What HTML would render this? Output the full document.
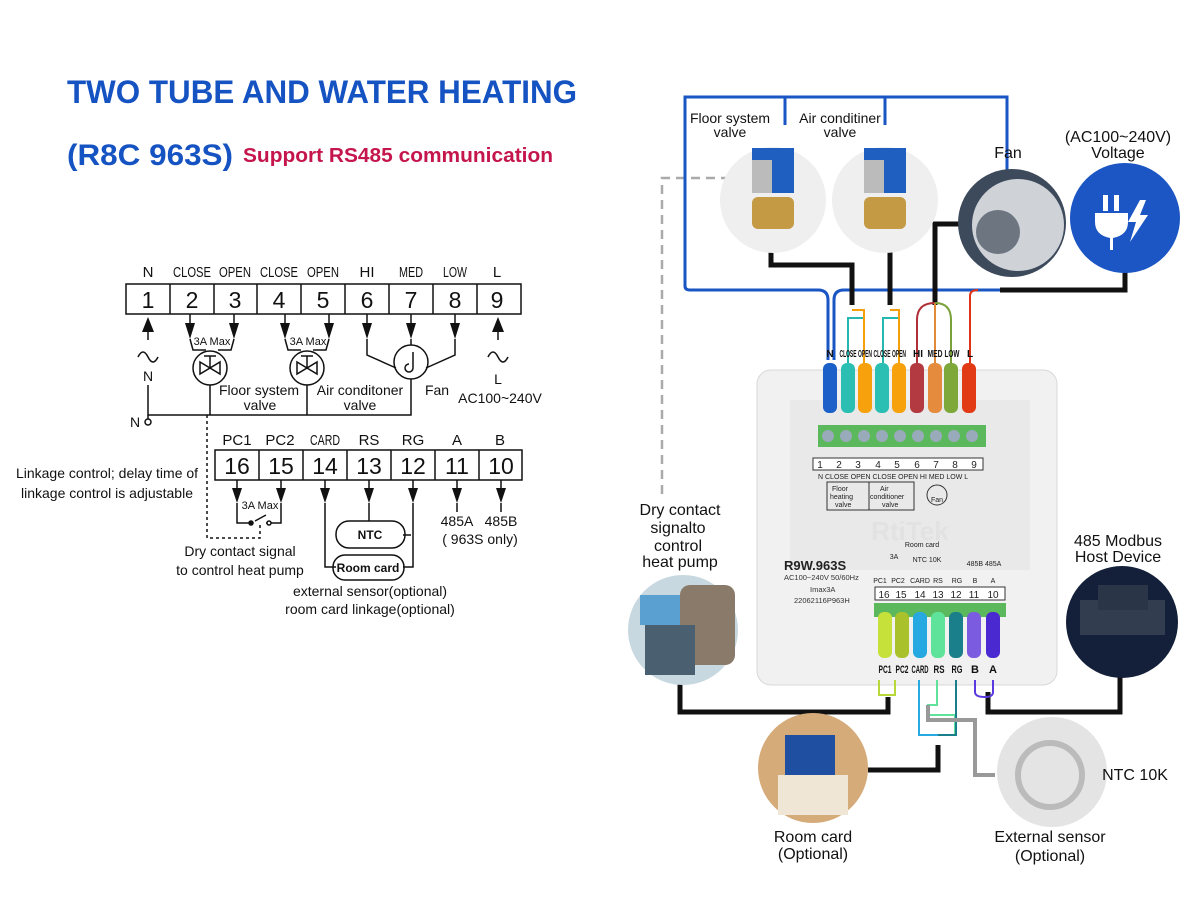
<!DOCTYPE html>
<html><head><meta charset="utf-8"><style>
html,body{margin:0;padding:0;background:#fff}
svg{display:block}
text{font-family:"Liberation Sans",sans-serif}
</style></head><body>
<svg width="1200" height="900" viewBox="0 0 1200 900" xmlns="http://www.w3.org/2000/svg">
<!-- Titles -->
<text x="67" y="103" font-size="32" font-weight="bold" fill="#1553c2" textLength="510" lengthAdjust="spacingAndGlyphs">TWO TUBE AND WATER HEATING</text>
<text x="67" y="165" font-size="30" font-weight="bold" fill="#1553c2" textLength="166" lengthAdjust="spacingAndGlyphs">(R8C 963S)</text>
<text x="243" y="162" font-size="20" font-weight="bold" fill="#c4164c" textLength="310" lengthAdjust="spacingAndGlyphs">Support RS485 communication</text>

<!-- LEFT SCHEMATIC -->
<g fill="none" stroke="#111" stroke-width="1.5">
<rect x="126" y="284" width="395" height="30"/>
<path d="M170,284V314M214,284V314M257,284V314M301,284V314M345,284V314M389,284V314M433,284V314M477,284V314"/>
<rect x="215" y="450" width="307" height="30"/>
<path d="M259,450V480M303,450V480M347,450V480M391,450V480M435,450V480M479,450V480"/>
</g>
<g font-size="15" text-anchor="middle" fill="#111">
<text x="148" y="277">N</text><text x="192" y="277" textLength="38" lengthAdjust="spacingAndGlyphs">CLOSE</text><text x="235" y="277" textLength="32" lengthAdjust="spacingAndGlyphs">OPEN</text><text x="279" y="277" textLength="38" lengthAdjust="spacingAndGlyphs">CLOSE</text><text x="323" y="277" textLength="32" lengthAdjust="spacingAndGlyphs">OPEN</text><text x="367" y="277">HI</text><text x="411" y="277" textLength="24" lengthAdjust="spacingAndGlyphs">MED</text><text x="455" y="277" textLength="24" lengthAdjust="spacingAndGlyphs">LOW</text><text x="497" y="277">L</text>
<text x="237" y="445">PC1</text><text x="280" y="445">PC2</text><text x="325" y="445" textLength="30" lengthAdjust="spacingAndGlyphs">CARD</text><text x="369" y="445">RS</text><text x="413" y="445">RG</text><text x="457" y="445">A</text><text x="500" y="445">B</text>
</g>
<g font-size="23" text-anchor="middle" fill="#111">
<text x="148" y="308">1</text><text x="192" y="308">2</text><text x="235" y="308">3</text><text x="279" y="308">4</text><text x="323" y="308">5</text><text x="367" y="308">6</text><text x="411" y="308">7</text><text x="455" y="308">8</text><text x="497" y="308">9</text>
<text x="237" y="474">16</text><text x="281" y="474">15</text><text x="325" y="474">14</text><text x="369" y="474">13</text><text x="413" y="474">12</text><text x="457" y="474">11</text><text x="501" y="474">10</text>
</g>
<!-- arrowheads -->
<g fill="#111">
<path d="M185,323H195L190,339Z"/><path d="M229,323H239L234,339Z"/><path d="M280,323H290L285,339Z"/><path d="M324,323H334L329,339Z"/><path d="M362,323H372L367,339Z"/><path d="M406,323H416L411,339Z"/><path d="M450,323H460L455,339Z"/>
<path d="M142,332L148,317L154,332Z"/><path d="M492,332L498,317L504,332Z"/>
<path d="M232,488H242L237,503Z"/><path d="M276,488H286L281,503Z"/><path d="M320,488H330L325,503Z"/><path d="M364,488H374L369,503Z"/><path d="M408,488H418L413,503Z"/><path d="M452,488H462L457,503Z"/><path d="M496,488H506L501,503Z"/>
</g>
<g fill="none" stroke="#111" stroke-width="1.5">
<path d="M190,314V324M234,314V324M285,314V324M329,314V324M367,314V324M411,314V324M455,314V324"/>
<path d="M237,480V490M281,480V490M325,480V490M369,480V490M413,480V490M457,480V490M501,480V490"/>
<path d="M148,340V330"/><path d="M498,340V330"/>
<path d="M138,357q5,-10 10,0t10,0"/><path d="M488,357q5,-10 10,0t10,0"/>
<!-- valve 1 -->
<path d="M190,339L193,350H206M234,339L231,350H218"/>
<circle cx="210" cy="368" r="17"/>
<path d="M200,362L220,374V362L200,374Z M210,368V356M204,356H216"/>
<!-- valve 2 -->
<path d="M285,339L288,350H301M329,339L326,350H313"/>
<circle cx="307" cy="368" r="17"/>
<path d="M297,362L317,374V362L297,374Z M307,368V356M301,356H313"/>
<!-- fan -->
<path d="M367,339V355L396,368M411,339V345M455,339V355L426,368"/>
<circle cx="411" cy="362" r="17"/>
<path d="M413,352V368a4,4 0 1 1 -4,-4"/>
<!-- N bus -->
<path d="M148,385V415H411V379M210,385V415M307,385V415"/>
<circle cx="148" cy="422" r="3" fill="#fff"/>
<path d="M148,415V419"/>
<path d="M207,415V538H260V525" stroke-dasharray="3,3"/>
<path d="M237,503V523H250M255,521L266,515M266,523H281V503"/>
<circle cx="251" cy="523" r="2" fill="#111"/><circle cx="269" cy="523" r="2" fill="#fff"/>
<path d="M325,503V567H336M369,503V521M413,503V567H403M403,535H411"/>
<rect x="336" y="521" width="69" height="27" rx="13"/>
<rect x="333" y="555" width="71" height="25" rx="12"/>
<path d="M457,503V512M501,503V512"/>
</g>
<g fill="#111" font-size="11" text-anchor="middle">
<text x="212" y="345">3A Max</text><text x="308" y="345">3A Max</text><text x="260" y="509">3A Max</text>
</g>
<g fill="#111" font-size="14" text-anchor="middle">
<text x="148" y="381">N</text><text x="498" y="384">L</text><text x="500" y="403">AC100~240V</text>
<text x="259" y="395">Floor system</text><text x="260" y="410">valve</text>
<text x="360" y="395">Air conditoner</text><text x="360" y="410">valve</text>
<text x="437" y="395">Fan</text><text x="135" y="427">N</text>
<text x="107" y="478">Linkage control; delay time of</text><text x="107" y="498">linkage control is adjustable</text>
<text x="240" y="556">Dry contact signal</text><text x="240" y="575">to control heat pump</text>
<text x="370" y="596">external sensor(optional)</text><text x="370" y="614">room card linkage(optional)</text>
<text x="457" y="526">485A</text><text x="501" y="526">485B</text><text x="480" y="544">( 963S only)</text>
</g>
<g fill="#111" font-size="12" font-weight="bold" text-anchor="middle"><text x="370" y="539">NTC</text><text x="368" y="572">Room card</text></g>

<!-- RIGHT SIDE -->
<path d="M730,178H662V500" fill="none" stroke="#aaa" stroke-width="2.5" stroke-dasharray="9,6"/>
<g fill="none" stroke="#1a55c4" stroke-width="3">
<path d="M1007,170V97H685V286Q685,290 690,290H818Q828,290 828,300V360"/>
<path d="M785,97V125M885,97V125"/>
<path d="M834,360V300Q834,290 844,290H1000"/>
</g>
<g fill="none" stroke="#111" stroke-width="5">
<path d="M771,250V265H852V305"/><path d="M890,250V305"/><path d="M960,224H935V305"/>
<path d="M1000,290H1125V270"/>
<path d="M680,680V712H888V697"/>
<path d="M1120,675V712H988V692"/>
<path d="M868,770H938V745"/>
</g>
<g fill="none" stroke-width="2">
<path d="M848,363V318H864V363" stroke="#23b9b0"/><path d="M864,363V310H852" stroke="#f5a00a"/>
<path d="M883,363V318H898" stroke="#23b9b0"/><path d="M899,363V310H890" stroke="#f5a00a"/>
<path d="M917,363V320Q917,303 935,303" stroke="#b03038"/><path d="M935,363V303" stroke="#e08a3a"/><path d="M951,363V320Q951,303 935,303" stroke="#7aa23a"/>
<path d="M970,363V296Q970,290 978,290" stroke="#e03418"/>
</g>
<rect x="757" y="370" width="300" height="315" rx="14" fill="#f1f1f1" stroke="#d8d8d8"/>
<rect x="790" y="400" width="240" height="170" fill="#e9e9e9"/>
<rect x="818" y="425" width="168" height="22" fill="#5cb85c"/>
<g fill="#9ab"><circle cx="828" cy="436" r="6"/><circle cx="846" cy="436" r="6"/><circle cx="864" cy="436" r="6"/><circle cx="882" cy="436" r="6"/><circle cx="900" cy="436" r="6"/><circle cx="918" cy="436" r="6"/><circle cx="936" cy="436" r="6"/><circle cx="954" cy="436" r="6"/><circle cx="972" cy="436" r="6"/></g>
<rect x="813" y="458" width="170" height="12" fill="#fff" stroke="#333"/>
<g font-size="10" text-anchor="middle" fill="#222"><text x="820" y="468">1</text><text x="839" y="468">2</text><text x="858" y="468">3</text><text x="878" y="468">4</text><text x="897" y="468">5</text><text x="917" y="468">6</text><text x="936" y="468">7</text><text x="955" y="468">8</text><text x="974" y="468">9</text></g>
<g font-size="7" fill="#222"><text x="818" y="479">N CLOSE OPEN CLOSE OPEN HI  MED  LOW  L</text>
<rect x="827" y="482" width="42" height="28" fill="none" stroke="#333"/><text x="832" y="491">Floor</text><text x="830" y="499">heating</text><text x="835" y="507">valve</text>
<rect x="869" y="482" width="45" height="28" fill="none" stroke="#333"/><text x="880" y="491">Air</text><text x="870" y="499">conditioner</text><text x="882" y="507">valve</text>
<circle cx="937" cy="495" r="10" fill="none" stroke="#333"/><text x="931" y="502">Fan</text></g>
<text x="910" y="540" font-size="26" font-weight="bold" fill="#e2e2e2" text-anchor="middle">RtiTek</text>
<text x="784" y="570" font-size="13" font-weight="bold" fill="#222">R9W.963S</text>
<g font-size="7.5" fill="#333"><text x="784" y="580">AC100~240V 50/60Hz</text><text x="810" y="592">Imax3A</text><text x="794" y="603">22062116P963H</text></g>
<g font-size="7" fill="#222" text-anchor="middle"><text x="894" y="559">3A</text><text x="922" y="547">Room card</text><text x="927" y="562">NTC 10K</text><text x="984" y="566">485B 485A</text>
<text x="880" y="583">PC1</text><text x="898" y="583">PC2</text><text x="920" y="583">CARD</text><text x="938" y="583">RS</text><text x="957" y="583">RG</text><text x="975" y="583">B</text><text x="993" y="583">A</text></g>
<rect x="875" y="587" width="130" height="13" fill="#fff" stroke="#333"/>
<g font-size="10" text-anchor="middle" fill="#222"><text x="884" y="598">16</text><text x="901" y="598">15</text><text x="920" y="598">14</text><text x="938" y="598">13</text><text x="956" y="598">12</text><text x="974" y="598">11</text><text x="993" y="598">10</text></g>
<rect x="874" y="603" width="132" height="14" fill="#5cb85c"/>
<g>
<rect x="823" y="363" width="14" height="50" rx="6" fill="#1b5fc8"/>
<rect x="841" y="363" width="14" height="50" rx="6" fill="#2bbfb4"/>
<rect x="858" y="363" width="14" height="50" rx="6" fill="#f7a10c"/>
<rect x="875" y="363" width="14" height="50" rx="6" fill="#2bbfb4"/>
<rect x="892" y="363" width="14" height="50" rx="6" fill="#f7a10c"/>
<rect x="910" y="363" width="14" height="50" rx="6" fill="#b23a40"/>
<rect x="928" y="363" width="14" height="50" rx="6" fill="#e58b3e"/>
<rect x="944" y="363" width="14" height="50" rx="6" fill="#7ea83a"/>
<rect x="962" y="363" width="14" height="50" rx="6" fill="#e23a14"/>
</g>
<g font-size="10" font-weight="bold" fill="#111" text-anchor="middle">
<text x="830" y="357">N</text><text x="848" y="357" textLength="17" lengthAdjust="spacingAndGlyphs">CLOSE</text><text x="865" y="357" textLength="14" lengthAdjust="spacingAndGlyphs">OPEN</text><text x="882" y="357" textLength="17" lengthAdjust="spacingAndGlyphs">CLOSE</text><text x="899" y="357" textLength="14" lengthAdjust="spacingAndGlyphs">OPEN</text><text x="918" y="357">HI</text><text x="935" y="357" textLength="15" lengthAdjust="spacingAndGlyphs">MED</text><text x="952" y="357" textLength="15" lengthAdjust="spacingAndGlyphs">LOW</text><text x="970" y="357">L</text>
</g>
<g>
<rect x="878" y="612" width="14" height="46" rx="6" fill="#c6e23a"/>
<rect x="895" y="612" width="14" height="46" rx="6" fill="#a9c22c"/>
<rect x="913" y="612" width="14" height="46" rx="6" fill="#26a9e0"/>
<rect x="931" y="612" width="14" height="46" rx="6" fill="#5fe39a"/>
<rect x="949" y="612" width="14" height="46" rx="6" fill="#1a7f8a"/>
<rect x="967" y="612" width="14" height="46" rx="6" fill="#7b5be0"/>
<rect x="986" y="612" width="14" height="46" rx="6" fill="#4a2ad0"/>
</g>
<g font-size="11" font-weight="bold" fill="#111" text-anchor="middle">
<text x="885" y="673" textLength="13" lengthAdjust="spacingAndGlyphs">PC1</text><text x="902" y="673" textLength="13" lengthAdjust="spacingAndGlyphs">PC2</text><text x="920" y="673" textLength="17" lengthAdjust="spacingAndGlyphs">CARD</text><text x="939" y="673" textLength="11" lengthAdjust="spacingAndGlyphs">RS</text><text x="957" y="673" textLength="11" lengthAdjust="spacingAndGlyphs">RG</text><text x="975" y="673">B</text><text x="993" y="673">A</text>
</g>
<g fill="none" stroke-width="2">
<path d="M879,680V695H895V680" stroke="#b8d83a"/>
<path d="M975,680V692Q975,697 985,697Q993,697 993,692V680" stroke="#5a3ae0"/>
<path d="M919,680V735H938" stroke="#26a9e0"/><path d="M937,680V705H928V715H955V735" stroke="#5fe39a"/>
<path d="M956,680V735H938" stroke="#1a7f8a"/>
</g>
<path d="M928,705V720H975V775H995" fill="none" stroke="#999" stroke-width="4"/>
<circle cx="773" cy="200" r="53" fill="#efefef"/>
<rect x="752" y="148" width="42" height="45" fill="#1f5fc0"/><rect x="752" y="160" width="20" height="33" fill="#bbb"/>
<rect x="752" y="197" width="42" height="32" rx="6" fill="#c49a45"/>
<circle cx="885" cy="200" r="53" fill="#efefef"/>
<rect x="864" y="148" width="42" height="45" fill="#1f5fc0"/><rect x="864" y="160" width="20" height="33" fill="#bbb"/>
<rect x="864" y="197" width="42" height="32" rx="6" fill="#c49a45"/>
<circle cx="1012" cy="223" r="54" fill="#3d4a5c"/><circle cx="1018" cy="225" r="46" fill="#cfd3d8"/><circle cx="998" cy="232" r="22" fill="#6c7580"/>
<circle cx="1125" cy="218" r="55" fill="#1b56c4"/>
<g fill="#fff"><rect x="1103" y="195" width="5" height="16"/><rect x="1114" y="195" width="5" height="16"/><path d="M1095,213H1128V222Q1128,235 1113,238V250H1110V238Q1095,235 1095,222Z"/><path d="M1140,200L1128,222H1136L1130,242L1148,215H1140L1146,200Z"/></g>
<circle cx="683" cy="630" r="55" fill="#c8d8e0"/><rect x="640" y="595" width="80" height="30" fill="#5aa0d0"/><rect x="680" y="585" width="55" height="80" rx="10" fill="#8a7a6a"/><rect x="645" y="625" width="50" height="50" fill="#4a6070"/>
<circle cx="1122" cy="622" r="56" fill="#14203a"/><rect x="1080" y="600" width="85" height="35" fill="#333d50"/><rect x="1098" y="585" width="50" height="25" fill="#2a3548"/>
<circle cx="813" cy="768" r="55" fill="#d6ab7a"/><rect x="785" y="735" width="50" height="45" fill="#1f4fa0"/><rect x="778" y="775" width="70" height="40" fill="#efe6d6"/>
<circle cx="1052" cy="772" r="55" fill="#e4e4e4"/><circle cx="1050" cy="775" r="32" fill="none" stroke="#bbb" stroke-width="6"/>
<g font-size="14" fill="#111" text-anchor="middle">
<text x="730" y="123">Floor system</text><text x="730" y="137">valve</text>
<text x="840" y="123">Air conditiner</text><text x="840" y="137">valve</text>
<text x="1008" y="158" font-size="16">Fan</text>
<text x="1118" y="142" font-size="16">(AC100~240V)</text><text x="1118" y="158" font-size="16">Voltage</text>
<text x="680" y="515" font-size="16">Dry contact</text><text x="678" y="533" font-size="16">signalto</text><text x="678" y="551" font-size="16">control</text><text x="680" y="567" font-size="16">heat pump</text>
<text x="1118" y="546" font-size="16">485 Modbus</text><text x="1118" y="562" font-size="16">Host Device</text>
<text x="1135" y="780" font-size="16">NTC 10K</text>
<text x="813" y="842" font-size="16">Room card</text><text x="813" y="859" font-size="16">(Optional)</text>
<text x="1050" y="842" font-size="16">External sensor</text><text x="1050" y="861" font-size="16">(Optional)</text>
</g>
</svg>
</body></html>
